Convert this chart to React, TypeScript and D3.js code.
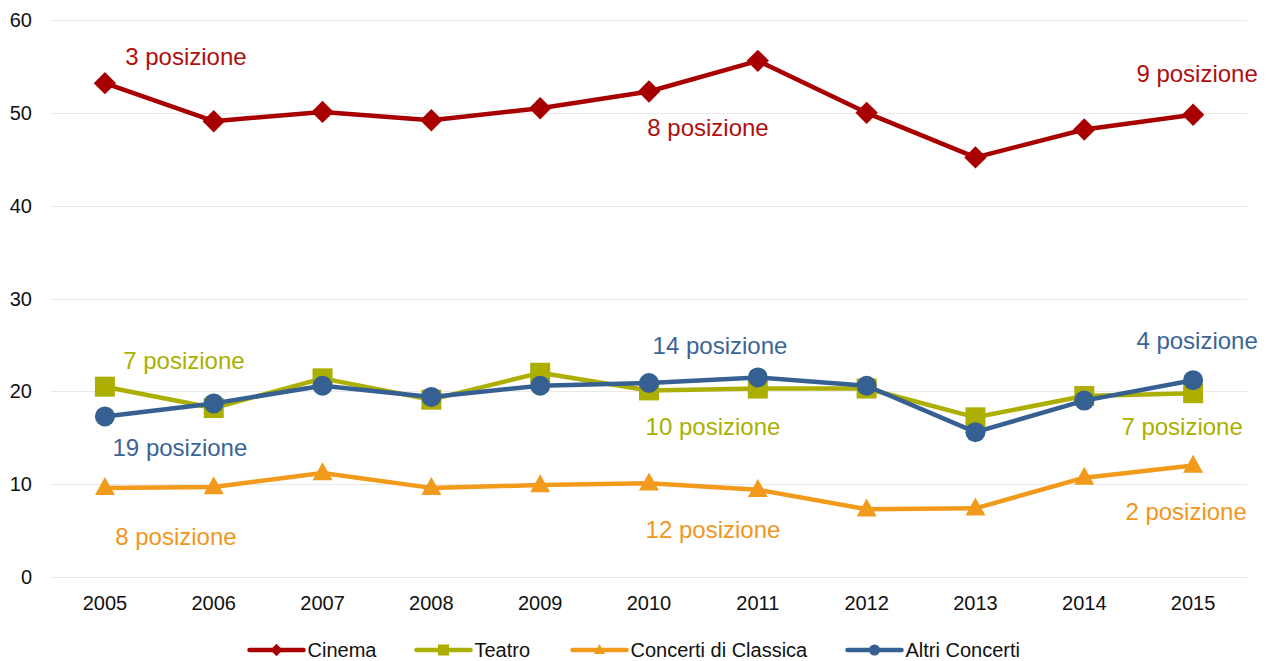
import React from "react";
import * as d3 from "d3";

const years = ["2005","2006","2007","2008","2009","2010","2011","2012","2013","2014","2015"];
const cinema = [53.2, 49.1, 50.1, 49.2, 50.5, 52.3, 55.6, 50.0, 45.2, 48.2, 49.8];
const teatro = [20.5, 18.2, 21.4, 19.1, 22.0, 20.1, 20.3, 20.3, 17.2, 19.5, 19.8];
const classica = [9.6, 9.7, 11.2, 9.6, 9.9, 10.1, 9.4, 7.3, 7.4, 10.7, 12.0];
const altri = [17.3, 18.7, 20.6, 19.4, 20.6, 20.9, 21.5, 20.6, 15.6, 19.0, 21.2];
const yTicks = [0, 10, 20, 30, 40, 50, 60];

const seriesNames = ["Cinema", "Teatro", "Concerti di Classica", "Altri Concerti"];
const seriesColors = ["#A80000", "#ADAF00", "#F29A1C", "#366092"];
const labelColors = ["#B00E0E", "#A9B000", "#F0961E", "#3B6497"];
const seriesShapes = ["diamond", "square", "triangle", "circle"];

// annotations: text, series index, anchor year, value level
const annText = ["3 posizione","8 posizione","9 posizione","7 posizione","19 posizione","8 posizione","14 posizione","10 posizione","12 posizione","4 posizione","7 posizione","2 posizione"];
const annSeries = [0, 0, 0, 1, 3, 2, 3, 1, 2, 3, 1, 2];
const annYear = ["2005","2010","2015","2005","2005","2005","2010","2010","2010","2015","2015","2015"];
const annValue = [56.1, 48.4, 54.2, 23.3, 13.9, 4.3, 24.9, 16.2, 5.1, 25.5, 16.2, 7.0];
const annDx = [81, 59, 4, 79, 75, 71, 71, 64, 64, 4, -11, -7];

const W = 1267, H = 661;

function Marker({ shape, x, y, s, color }: { shape: string; x: number; y: number; s: number; color: string }) {
  if (shape === "diamond") {
    const r = s * 0.56;
    return <path d={`M${x},${y - r}L${x + r},${y}L${x},${y + r}L${x - r},${y}Z`} fill={color} />;
  }
  if (shape === "square") {
    const h = s / 2;
    return <rect x={x - h} y={y - h} width={s} height={s} fill={color} />;
  }
  if (shape === "triangle") {
    const h = s * 0.9;
    return <path d={`M${x},${y - h * 0.6}L${x + s / 2},${y + h * 0.4}L${x - s / 2},${y + h * 0.4}Z`} fill={color} />;
  }
  return <circle cx={x} cy={y} r={s / 2} fill={color} />;
}

export default function App() {
  const x = d3.scalePoint<string>().domain(years).range([50.5, 1247.5]).padding(0.5);
  const y = d3.scaleLinear().domain([0, 60]).range([577, 20]);
  const data = [cinema, teatro, classica, altri];
  const line = d3.line<number>().x((_, i) => x(years[i]) as number).y((d) => y(d));
  const font = "Arial, 'Liberation Sans', sans-serif";

  // legend layout
  const legendFont = 20;
  const textW = [69, 58, 177, 118];
  const lineLen = 54, gapT = 4, gapItem = 40;
  const total = textW.reduce((a, b) => a + b, 0) + 4 * (lineLen + gapT) + 3 * gapItem;
  let lx = (W - total) / 2 + 3;
  const legendItems = seriesNames.map((n, i) => {
    const item = { x: lx, i, n };
    lx += lineLen + gapT + textW[i] + gapItem;
    return item;
  });
  const ly = 650;

  return (
    <svg width={W} height={H} style={{ position: "absolute", left: 0, top: 0, background: "#fff" }} fontFamily={font}>
      {yTicks.map((t) => (
        <g key={t}>
          <line x1={50.5} x2={1247.5} y1={Math.round(y(t)) + 0.5} y2={Math.round(y(t)) + 0.5} stroke="#e9e9e9" strokeWidth={1} />
          <text x={32} y={y(t)} dy="0.35em" textAnchor="end" fontSize={20} fill="#111">{t}</text>
        </g>
      ))}
      {years.map((yr) => (
        <text key={yr} x={x(yr)} y={603} dy="0.35em" textAnchor="middle" fontSize={20} fill="#111">{yr}</text>
      ))}
      {data.map((s, si) => (
        <g key={si}>
          <path d={line(s) as string} fill="none" stroke={seriesColors[si]} strokeWidth={4.5} strokeLinejoin="round" />
          {s.map((v, i) => (
            <Marker key={i} shape={seriesShapes[si]} x={x(years[i]) as number} y={y(v)} s={20} color={seriesColors[si]} />
          ))}
        </g>
      ))}
      {annText.map((t, i) => (
        <text key={i} x={(x(annYear[i]) as number) + annDx[i]} y={y(annValue[i])} dy="0.35em" textAnchor="middle" fontSize={24} fill={labelColors[annSeries[i]]}>{t}</text>
      ))}
      {legendItems.map((it) => (
        <g key={it.n}>
          <line x1={it.x} x2={it.x + lineLen} y1={ly} y2={ly} stroke={seriesColors[it.i]} strokeWidth={4.5} strokeLinecap="round" />
          <Marker shape={seriesShapes[it.i]} x={it.x + lineLen / 2} y={ly} s={11} color={seriesColors[it.i]} />
          <text x={it.x + lineLen + gapT} y={ly} dy="0.35em" fontSize={legendFont} fill="#111">{it.n}</text>
        </g>
      ))}
    </svg>
  );
}
